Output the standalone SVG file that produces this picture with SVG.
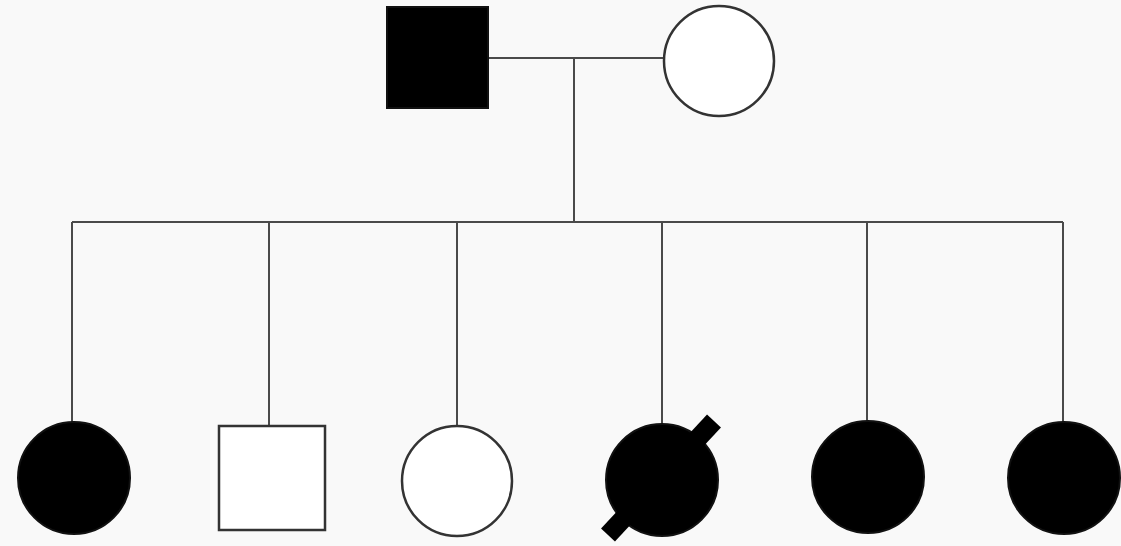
<svg xmlns="http://www.w3.org/2000/svg" width="1121" height="546" viewBox="0 0 1121 546">
  <style>
    .line { stroke: #4a4a4a; stroke-width: 2; fill: none; }
    .affected { fill: #000; stroke: #111; stroke-width: 2; }
    .unaffected { fill: #fff; stroke: #333; stroke-width: 2.5; }
    .deceased { stroke: #000; stroke-width: 19; stroke-linecap: butt; }
  </style>
  <rect width="1121" height="546" fill="#f9f9f9"/>

  <g id="connectors">
    <!-- marriage line -->
    <line class="line" x1="489" y1="58" x2="663" y2="58"/>
    <!-- descent line -->
    <line class="line" x1="574" y1="58" x2="574" y2="222"/>
    <!-- sibship line -->
    <line class="line" x1="72" y1="222" x2="1063" y2="222"/>
    <!-- individual drops -->
    <line class="line" x1="72" y1="222" x2="72" y2="423"/>
    <line class="line" x1="269" y1="222" x2="269" y2="426"/>
    <line class="line" x1="457" y1="222" x2="457" y2="426"/>
    <line class="line" x1="662" y1="222" x2="662" y2="424"/>
    <line class="line" x1="867" y1="222" x2="867" y2="422"/>
    <line class="line" x1="1063" y1="222" x2="1063" y2="424"/>
  </g>

  <g id="father">
    <rect class="affected" x="387" y="7" width="101" height="101"/>
  </g>
  <g id="mother">
    <circle class="unaffected" cx="719" cy="61" r="55"/>
  </g>

  <g id="child1">
    <circle class="affected" cx="74" cy="478" r="56"/>
  </g>
  <g id="child2">
    <rect class="unaffected" x="219" y="426" width="106" height="104"/>
  </g>
  <g id="child3">
    <circle class="unaffected" cx="457" cy="481" r="55"/>
  </g>
  <g id="child4">
    <circle class="affected" cx="662" cy="480" r="56"/>
    <line class="deceased" x1="608" y1="535" x2="714" y2="421"/>
  </g>
  <g id="child5">
    <circle class="affected" cx="868" cy="477" r="56"/>
  </g>
  <g id="child6">
    <circle class="affected" cx="1064" cy="478" r="56"/>
  </g>
</svg>
